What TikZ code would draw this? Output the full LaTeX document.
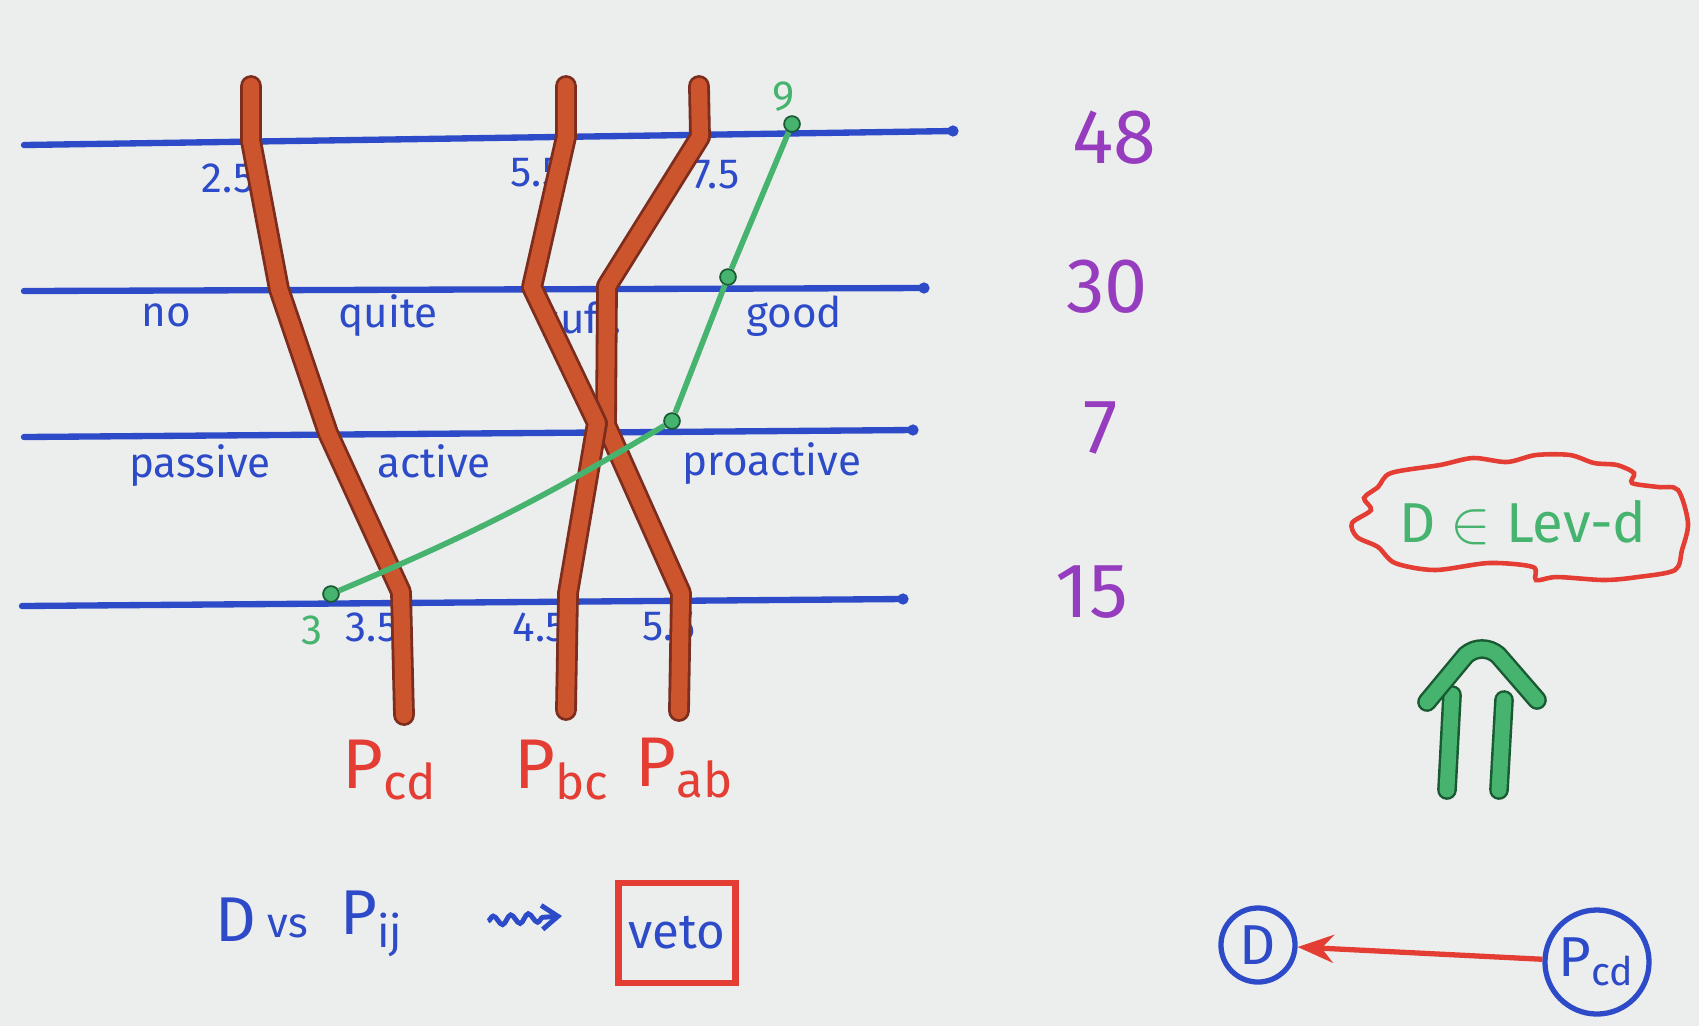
\documentclass[tikz,border=0pt]{standalone}
\usepackage{fontspec}
\setmainfont{Fira Sans}
\usetikzlibrary{arrows.meta, decorations.pathmorphing}
\definecolor{paper}{RGB}{236,238,238}
\definecolor{inkblue}{RGB}{45,75,200}
\definecolor{inkred}{RGB}{228,62,52}
\definecolor{inkgreen}{RGB}{70,180,110}
\definecolor{inkpurple}{RGB}{150,60,190}
\definecolor{strandfill}{RGB}{205,85,45}
\definecolor{strandedge}{RGB}{125,45,30}
\definecolor{tubeedge}{RGB}{25,90,50}

\begin{document}
\begin{tikzpicture}[x=0.01cm, y=-0.01cm,
    level/.style={line width=1.8pt, draw=inkblue, line cap=round},
    strand/.style={line width=6.2pt, draw=strandedge, line cap=round, line join=round,
        postaction={draw=strandfill, line width=4.6pt}},
    tube/.style={line width=5.6pt, draw=tubeedge, line cap=round, line join=round,
        postaction={draw=inkgreen, line width=4.2pt}},
    lbl/.style={text=inkblue, font=\fontsize{12}{14}\selectfont},
    ratio/.style={text=inkpurple, font=\fontsize{22}{26}\selectfont},
    pname/.style={text=inkred, font=\fontsize{20}{24}\selectfont},
    gdot/.style={circle, fill=inkgreen, draw=tubeedge, line width=0.5pt, inner sep=0pt, minimum size=4.5pt},
    ring/.style={circle, draw=inkblue, line width=1.5pt, inner sep=0pt, text=inkblue,
        font=\fontsize{16}{18}\selectfont}]
    \fill[paper, use as bounding box] (0,0) rectangle (1699,1026);
    %%% Levels
    \draw[level] (24,145) -- (953,131);
    \fill[inkblue] (953,131) circle (1.6pt);
    \draw[level] (24,291) -- (924,288);
    \fill[inkblue] (924,288) circle (1.6pt);
    \draw[level] (24,437) -- (913,430);
    \fill[inkblue] (913,430) circle (1.6pt);
    \draw[level] (22,606) -- (903,599);
    \fill[inkblue] (903,599) circle (1.6pt);
    %
    \draw (166,315) node[lbl] (no) {no};
    \draw (388,316) node[lbl] (quite) {quite};
    \draw (581,318) node[lbl] (suff) {suff.};
    \draw (794,316) node[lbl] (good) {good};
    \draw (200,466) node[lbl] (passive) {passive};
    \draw (434,461) node[lbl] (active) {active};
    \draw (772,464) node[lbl] (proactive) {proactive};
    %
    \draw (228,178) node[lbl] (tl1) {2.5};
    \draw (537,173) node[lbl] (tl2) {5.5};
    \draw (716,175) node[lbl] (tl3) {7.5};
    \draw (372,627) node[lbl] (bl1) {3.5};
    \draw (540,627) node[lbl] (bl2) {4.5};
    \draw (669,627) node[lbl] (bl3) {5.5};
    %
    \draw (1114,138) node[ratio] (r1) {48};
    \draw (1107,287) node[ratio] (r2) {30};
    \draw (1101,428) node[ratio] (r3) {7};
    \draw (1092,592) node[ratio] (r4) {15};
    %
    %%% Profiles
    \draw[strand] (251,86) -- (251,141) -- (279,289) -- (328,433) -- (401,592) -- (404,715);
    \draw[strand] (699,86) -- (700,137) -- (607,286) -- (606,425) -- (681,593) -- (679,711);
    \draw[strand] (566,86) -- (566,137) -- (532,287) -- (597,423) -- (568,593) -- (566,710);
    %
    \draw (390,770) node[pname] (pcd) {P\textsubscript{cd}};
    \draw (562,770) node[pname] (pbc) {P\textsubscript{bc}};
    \draw (685,768) node[pname] (pab) {P\textsubscript{ab}};
    %
    %%% Decision
    \node[gdot] (g1) at (792,124) {};
    \node[gdot] (g2) at (728,277) {};
    \node[gdot] (g3) at (672,421) {};
    \node[gdot] (g4) at (331,594) {};
    \draw[inkgreen, line width=1.6pt] (g1) -- (g2) -- (g3) to[bend left=4] (g4);
    \draw (784,97) node[lbl, text=inkgreen] (gtop) {9};
    \draw (312,630) node[lbl, text=inkgreen] (gbot) {3};
    %
    %%% Veto
    \draw (236,920) node[text=inkblue, font=\fontsize{18}{20}\selectfont] (dvs) {D};
    \draw (288,926) node[text=inkblue, font=\fontsize{12}{14}\selectfont] (vs) {vs};
    \draw (372,924) node[text=inkblue, font=\fontsize{18}{20}\selectfont] (pij) {P\textsubscript{ij}};
    \coordinate (sq1) at (488,921);
    \coordinate (sq2) at (562,916);
    \draw[inkblue, line width=1.4pt, -{Straight Barb[length=1.6mm, width=2.4mm]}, decorate,
        decoration={snake, amplitude=1.3pt, segment length=5pt, post length=1.6mm}] (sq1) -- (sq2);
    \draw (677,933) node[draw=inkred, line width=1.8pt, minimum width=1.17cm, minimum height=1cm,
        inner sep=1pt, text=inkblue, font=\fontsize{14}{16}\selectfont] (veto) {veto};
    %
    %%% Level of D
    \draw[inkred, line width=1.3pt] plot[smooth cycle, tension=0.5] coordinates {
        (1391,473) (1440,465) (1473,458) (1507,462) (1536,455) (1570,455) (1594,463)
        (1617,465) (1634,473) (1632,483) (1658,487) (1678,490) (1688,523) (1682,550)
        (1675,570) (1638,577) (1604,580) (1557,577) (1536,580) (1533,567) (1489,563)
        (1435,570) (1395,563) (1378,547) (1357,537) (1352,523) (1371,510) (1364,498)
        (1378,487)};
    \draw (1523,523) node[text=inkgreen, font=\fontsize{16}{18}\selectfont] (lev) {D $\in$ Lev-d};
    %
    \draw[tube] (1452,695) -- (1447,790);
    \draw[tube] (1504,700) -- (1499,790);
    \draw[tube] (1427,702) -- (1466,655) to[out=40, in=140] (1498,655) -- (1537,700);
    %
    \node[ring, minimum size=0.74cm] (dnode) at (1258,945) {D};
    \node[ring, minimum size=1.04cm] (pnode) at (1597,962) {P\textsubscript{cd}};
    \draw[inkred, line width=1.5pt, -{Stealth[length=3.6mm, width=2.8mm, inset=1.2mm]}] (pnode) -- (dnode);
\end{tikzpicture}
\end{document}
